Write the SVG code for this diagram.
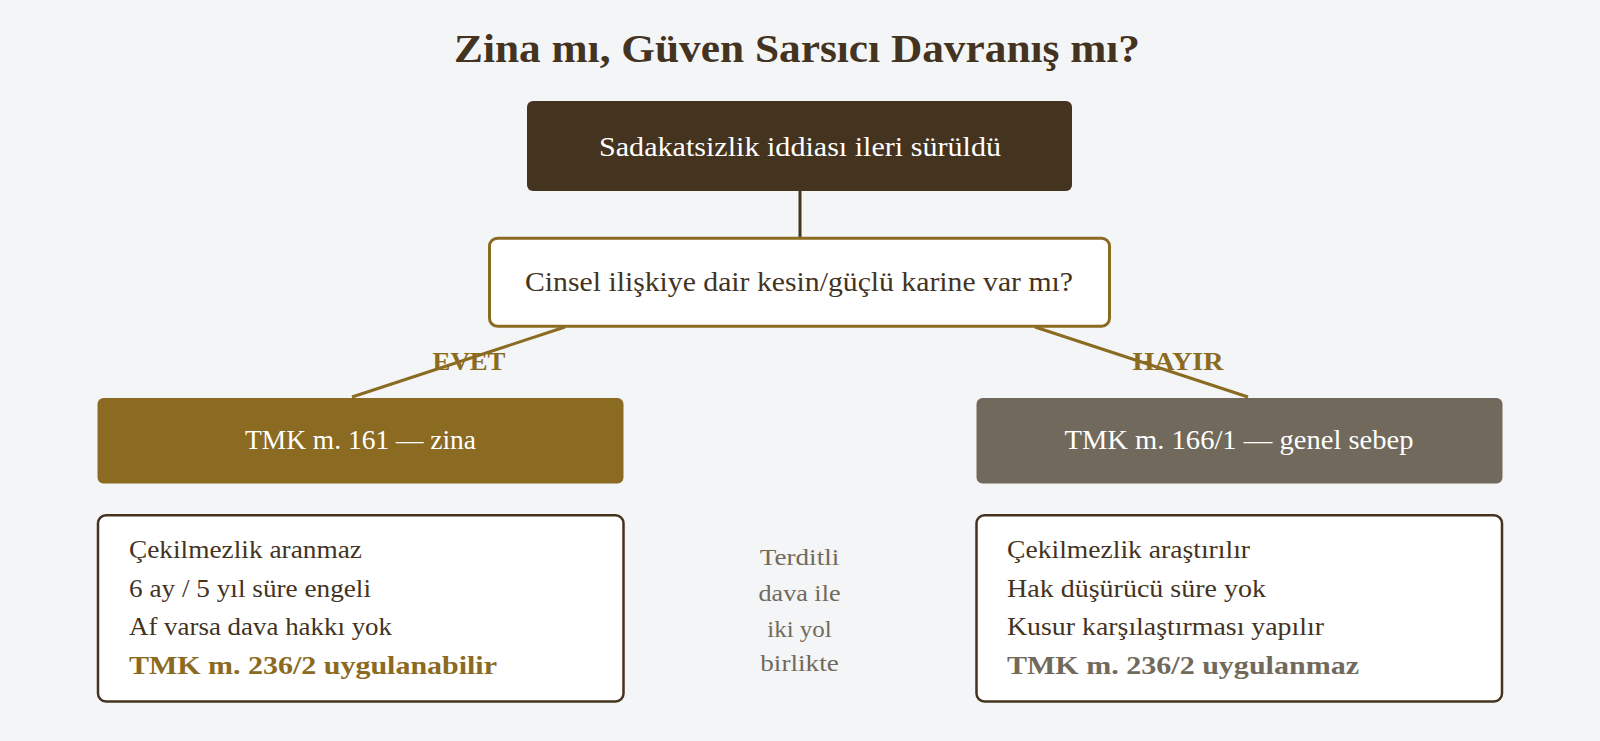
<svg xmlns="http://www.w3.org/2000/svg" width="1600" height="741" viewBox="0 0 1600 741">
<style>
text{font-family:"Liberation Serif","Times New Roman",serif}
.t{font-weight:bold;font-size:40px;fill:#43331f}
.hw{font-size:28px;fill:#ffffff}
.q{font-size:27.5px;fill:#43331f}
.lab{font-weight:bold;font-size:25px;fill:#8b6a21}
.li{font-size:24.5px;fill:#43331f}
.mid{font-size:23px;fill:#716a5c}
.conn{stroke:#8b6a21;stroke-width:3;fill:none}
.box{fill:#ffffff;stroke:#43331f;stroke-width:2.5}
</style>
<rect x="0" y="0" width="1600" height="741" fill="#f4f5f7"/>
<text class="t" x="797" y="62" text-anchor="middle" textLength="686" lengthAdjust="spacingAndGlyphs">Zina mı, Güven Sarsıcı Davranış mı?</text>
<g id="connectors">
<line x1="800" y1="190" x2="800" y2="238" stroke="#43331f" stroke-width="3"/>
<line class="conn" x1="565" y1="327" x2="352" y2="397"/>
<line class="conn" x1="1035" y1="327" x2="1248" y2="397"/>
<text class="lab" x="469" y="370" text-anchor="middle" textLength="73" lengthAdjust="spacingAndGlyphs">EVET</text>
<text class="lab" x="1178" y="370" text-anchor="middle" textLength="91" lengthAdjust="spacingAndGlyphs">HAYIR</text>
</g>
<g id="start">
<rect x="527" y="101" width="545" height="90" rx="6" fill="#43331f"/>
<text class="hw" x="800" y="156" text-anchor="middle" textLength="402" lengthAdjust="spacingAndGlyphs">Sadakatsizlik iddiası ileri sürüldü</text>
</g>
<g id="decision">
<rect x="489.5" y="238.2" width="620" height="88" rx="8" fill="#ffffff" stroke="#8b6a21" stroke-width="3"/>
<text class="q" x="799" y="291" text-anchor="middle" textLength="548" lengthAdjust="spacingAndGlyphs">Cinsel ilişkiye dair kesin/güçlü karine var mı?</text>
</g>
<g id="zina">
<rect x="97.5" y="398" width="526" height="85.5" rx="6" fill="#8b6a21"/>
<text class="hw" x="360.5" y="449.3" text-anchor="middle" textLength="231" lengthAdjust="spacingAndGlyphs">TMK m. 161 — zina</text>
</g>
<g id="genel">
<rect x="976.5" y="398" width="526" height="85.5" rx="6" fill="#716a5c"/>
<text class="hw" x="1239" y="449.3" text-anchor="middle" textLength="349" lengthAdjust="spacingAndGlyphs">TMK m. 166/1 — genel sebep</text>
</g>
<g id="zina-details">
<rect class="box" x="98" y="515.3" width="525.5" height="186.2" rx="8"/>
<text class="li" x="129" y="558.3" textLength="233" lengthAdjust="spacingAndGlyphs">Çekilmezlik aranmaz</text>
<text class="li" x="129" y="596.7" textLength="242" lengthAdjust="spacingAndGlyphs">6 ay / 5 yıl süre engeli</text>
<text class="li" x="129" y="635" textLength="263" lengthAdjust="spacingAndGlyphs">Af varsa dava hakkı yok</text>
<text class="li" x="129" y="674.3" font-weight="bold" style="fill:#8b6a21" textLength="368" lengthAdjust="spacingAndGlyphs">TMK m. 236/2 uygulanabilir</text>
</g>
<g id="genel-details">
<rect class="box" x="976.5" y="515.3" width="525.5" height="186.2" rx="8"/>
<text class="li" x="1007" y="558.3" textLength="243" lengthAdjust="spacingAndGlyphs">Çekilmezlik araştırılır</text>
<text class="li" x="1007" y="596.7" textLength="259" lengthAdjust="spacingAndGlyphs">Hak düşürücü süre yok</text>
<text class="li" x="1007" y="635" textLength="317" lengthAdjust="spacingAndGlyphs">Kusur karşılaştırması yapılır</text>
<text class="li" x="1007" y="674.3" font-weight="bold" style="fill:#716a5c" textLength="352" lengthAdjust="spacingAndGlyphs">TMK m. 236/2 uygulanmaz</text>
</g>
<g id="note">
<text class="mid" x="799.5" y="565" text-anchor="middle" textLength="79.5" lengthAdjust="spacingAndGlyphs">Terditli</text>
<text class="mid" x="799.5" y="601" text-anchor="middle" textLength="82" lengthAdjust="spacingAndGlyphs">dava ile</text>
<text class="mid" x="799.5" y="636.7" text-anchor="middle" textLength="64.5" lengthAdjust="spacingAndGlyphs">iki yol</text>
<text class="mid" x="799.5" y="671" text-anchor="middle" textLength="78.5" lengthAdjust="spacingAndGlyphs">birlikte</text>
</g>
</svg>
